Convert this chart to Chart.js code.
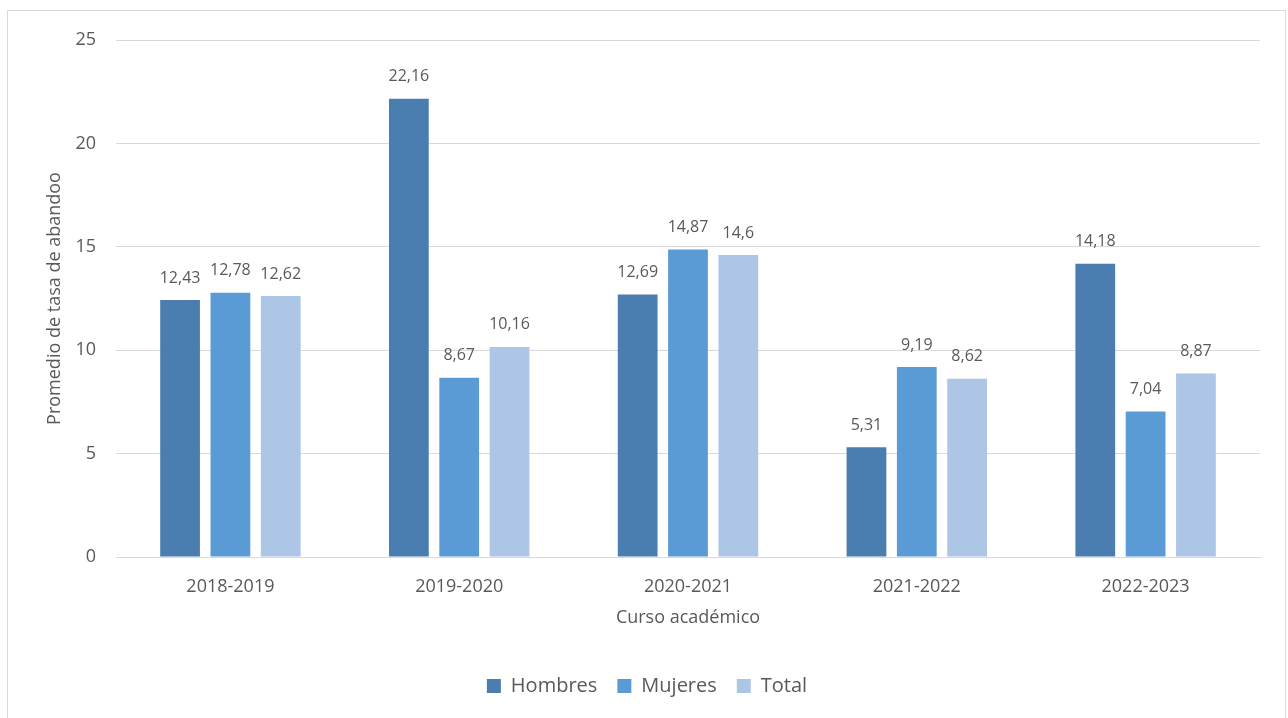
<!DOCTYPE html>
<html>
<head>
<meta charset="utf-8">
<script src="https://cdn.jsdelivr.net/npm/chart.js@4.4.0/dist/chart.umd.min.js"></script>
<style>
  html, body { margin: 0; padding: 0; background: #ffffff; }
  #wrap { position: relative; width: 1288px; height: 718px; overflow: hidden; }
  #frame { position: absolute; left: 7px; top: 10px; width: 1279px; height: 760px; border: 1px solid #d9d9d9; box-sizing: border-box; }
  canvas { position: absolute; left: 0; top: 0; }
</style>
</head>
<body>
<div id="wrap">
  <div id="frame"></div>
  <canvas id="c" width="1288" height="718"></canvas>
</div>
<script>
const categories = ['2018-2019', '2019-2020', '2020-2021', '2021-2022', '2022-2023'];
const hombres = [12.43, 22.16, 12.69, 5.31, 14.18];
const mujeres = [12.78, 8.67, 14.87, 9.19, 7.04];
const total = [12.62, 10.16, 14.6, 8.62, 8.87];
const yTicks = [0, 5, 10, 15, 20, 25];

const FONT = "'Open Sans', 'Noto Sans', sans-serif";
const TXT = '#595959';

const labelPlugin = {
  id: 'valueLabels',
  afterDatasetsDraw(chart) {
    const ctx = chart.ctx;
    ctx.save();
    ctx.font = '16px ' + FONT;
    ctx.fillStyle = TXT;
    ctx.textAlign = 'center';
    ctx.textBaseline = 'middle';
    chart.data.datasets.forEach((ds, i) => {
      const meta = chart.getDatasetMeta(i);
      meta.data.forEach((el, j) => {
        const v = ds.data[j];
        const s = String(v).replace('.', ',');
        ctx.fillText(s, el.x, el.y - 22);
      });
    });
    ctx.restore();
  }
};

new Chart(document.getElementById('c'), {
  type: 'bar',
  data: {
    labels: categories,
    datasets: [
      { label: 'Hombres', data: hombres, backgroundColor: '#4a7eb1' },
      { label: 'Mujeres', data: mujeres, backgroundColor: '#5b9bd5' },
      { label: 'Total', data: total, backgroundColor: '#adc6e6' }
    ]
  },
  options: {
    responsive: false,
    animation: false,
    devicePixelRatio: 1,
    categoryPercentage: 0.66,
    barPercentage: 0.79,
    layout: { padding: { left: 34, right: 28, top: 40, bottom: 12 } },
    plugins: {
      tooltip: { enabled: false },
      legend: {
        position: 'bottom',
        labels: {
          font: { family: FONT, size: 20 },
          color: TXT,
          boxWidth: 14,
          boxHeight: 14,
          padding: 20
        }
      }
    },
    scales: {
      x: {
        grid: { display: false, drawTicks: false },
        border: { display: true, color: '#d9d9d9', width: 1 },
        ticks: { font: { family: FONT, size: 18 }, color: TXT, padding: 19 },
        title: { display: true, text: 'Curso académico', font: { family: FONT, size: 18 }, color: TXT, padding: { top: 0, bottom: 27 } },
        afterFit(scale) { scale.height = 99; }
      },
      y: {
        min: 0,
        max: 25,
        afterBuildTicks(scale) { scale.ticks = yTicks.map(v => ({ value: v })); },
        grid: { color: '#d9d9d9', lineWidth: 1, drawTicks: false },
        border: { display: false },
        ticks: { font: { family: FONT, size: 18 }, color: TXT, padding: 20 },
        title: { display: true, text: 'Promedio de tasa de abandoo', font: { family: FONT, size: 18 }, color: TXT, padding: { top: 10, bottom: 0 } },
        afterFit(scale) { scale.width = 82; }
      }
    }
  },
  plugins: [labelPlugin]
});
</script>
</body>
</html>
